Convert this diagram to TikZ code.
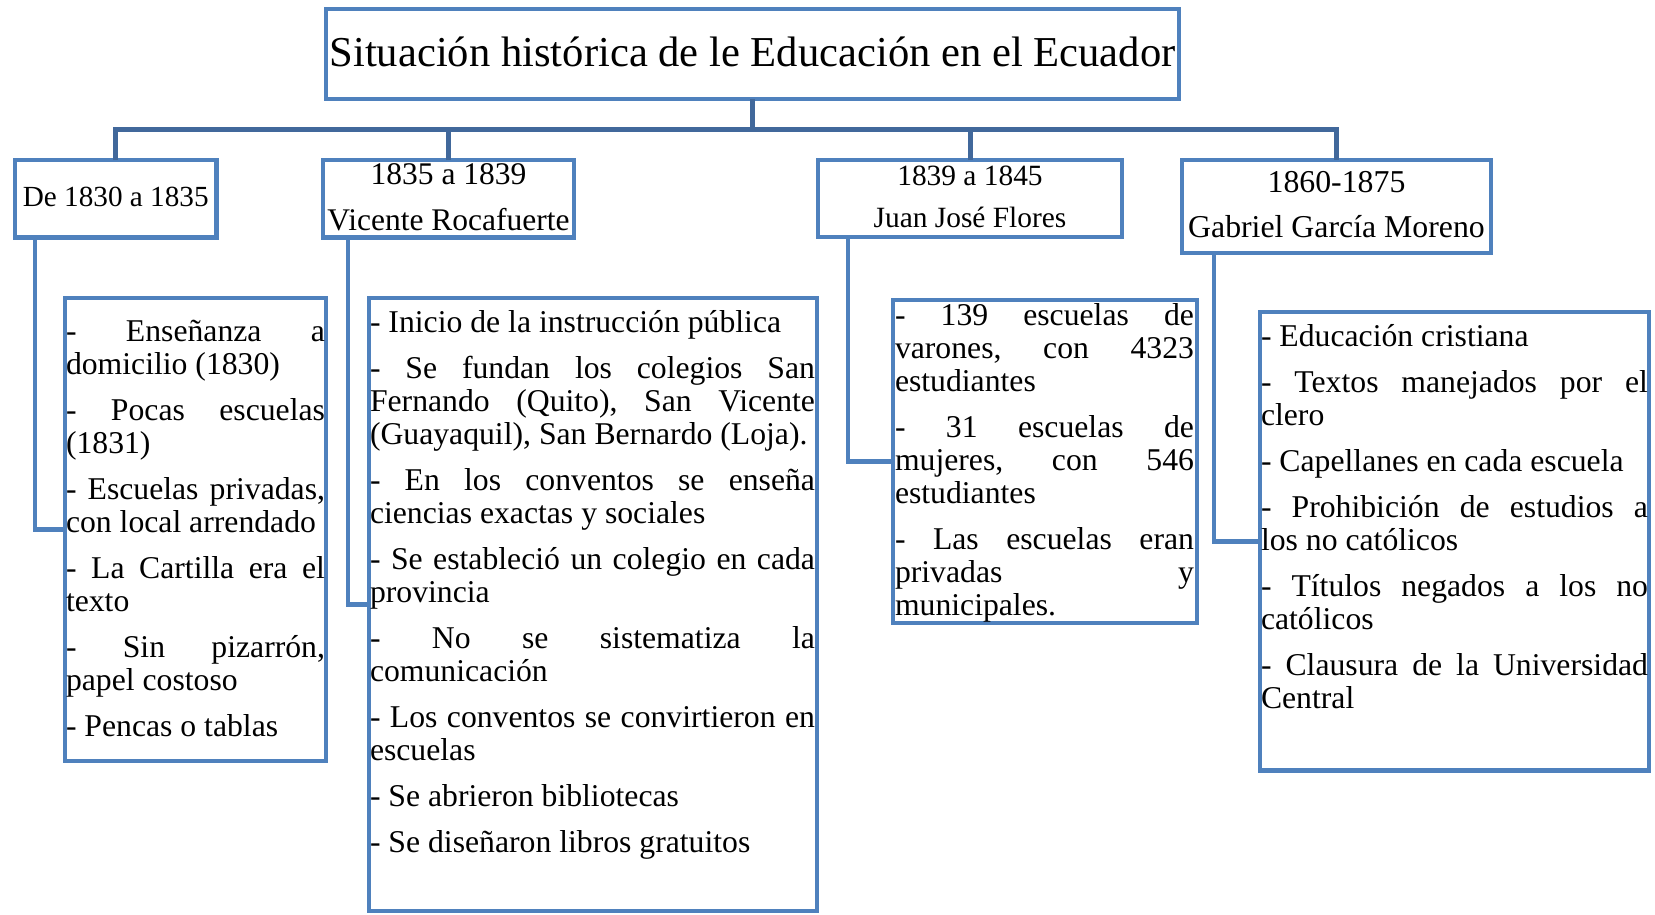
\documentclass[tikz,border=0pt]{standalone}
\usepackage{fontspec}
\setmainfont{Liberation Serif}
\definecolor{boxblue}{HTML}{4F81BD}
\definecolor{linkblue}{HTML}{41689B}
\tikzset{
  boxst/.style={draw=boxblue, line width=4.5pt, rectangle, inner sep=0pt, outer sep=0pt, anchor=north west},
  conn/.style={draw=linkblue, line width=5pt},
  side/.style={draw=boxblue, line width=4.5pt},
  txt/.style={inner sep=0pt, outer sep=0pt},
  detail/.style={txt, anchor=north west, font=\dfont},
}
\newcommand\J[1]{\hbox to \hsize{#1}}
\newcommand\N[1]{\hbox{#1}}
\newcommand\G{\vskip13pt}
\newcommand\F{\rule{0pt}{26pt}}
\newcommand\dfont{\fontsize{31.7}{33}\selectfont\frenchspacing}
\begin{document}
\begin{tikzpicture}[x=1pt, y=-1pt]
\useasboundingbox (0,0) rectangle (1655,914);
% boxes
\node[boxst, minimum width=853pt, minimum height=90pt] (title) at (326,9) {};
\node[boxst, minimum width=201.5pt, minimum height=77.5pt] (b1) at (15,160) {};
\node[boxst, minimum width=251pt, minimum height=77.5pt] (b2) at (323,160) {};
\node[boxst, minimum width=304pt, minimum height=77pt] (b3) at (818,160) {};
\node[boxst, minimum width=309pt, minimum height=93pt] (b4) at (1182,160) {};
\node[boxst, minimum width=261pt, minimum height=463pt] (d1) at (65,298) {};
\node[boxst, minimum width=448pt, minimum height=613pt] (d2) at (369,298) {};
\node[boxst, minimum width=304pt, minimum height=323pt] (d3) at (893,300) {};
\node[boxst, minimum width=389pt, minimum height=458.5pt] (d4) at (1260,312) {};
% connectors
\coordinate (bar) at (752.5,129);
\draw[conn] (title.south) -- (bar);
\draw[conn] (b1.north) |- (bar) -| (b4.north);
\draw[conn] (b2.north) |- (bar);
\draw[conn] (b3.north) |- (bar);
\draw[side] ([xshift=20pt]b1.south west) |- (d1.west);
\draw[side] ([xshift=25pt]b2.south west) |- (d2.west);
\draw[side] ([xshift=30pt]b3.south west) |- (d3.west);
\draw[side] ([xshift=32pt]b4.south west) |- (d4.west);
% title and headers
\node[txt, anchor=base, font=\fontsize{42.6}{50}\selectfont] (ttl) at (752.5,66.5) {Situación histórica de le Educación en el Ecuador};
\node[txt, anchor=base, font=\fontsize{29.2}{35}\selectfont] (h1) at (115.75,206.7) {De 1830 a 1835};
\node[txt, anchor=base, font=\fontsize{31.5}{38}\selectfont] (h2a) at (448.5,184) {1835 a 1839};
\node[txt, anchor=base, font=\fontsize{31.5}{38}\selectfont] (h2b) at (448.5,230) {Vicente Rocafuerte};
\node[txt, anchor=base, font=\fontsize{29.4}{35}\selectfont] (h3a) at (970,185.5) {1839 a 1845};
\node[txt, anchor=base, font=\fontsize{29.4}{35}\selectfont] (h3b) at (970,227) {Juan José Flores};
\node[txt, anchor=base, font=\fontsize{31.8}{38}\selectfont] (h4a) at (1336.5,192) {1860-1875};
\node[txt, anchor=base, font=\fontsize{31.8}{38}\selectfont] (h4b) at (1336.5,237.5) {Gabriel García Moreno};
% details
\node[detail] (t1) at (66,315) {\vbox{\hsize=259pt
\J{\F- Enseñanza a}
\N{domicilio (1830)}\G
\J{- Pocas escuelas}
\N{(1831)}\G
\J{- Escuelas privadas,}
\N{con local arrendado}\G
\J{- La Cartilla era el}
\N{texto}\G
\J{- Sin pizarrón,}
\N{papel costoso}\G
\N{- Pencas o tablas}}};
\node[detail] (t2) at (370,306.5) {\vbox{\hsize=445pt
\N{\F- Inicio de la instrucción pública}\G
\J{- Se fundan los colegios San}
\J{Fernando (Quito), San Vicente}
\N{(Guayaquil), San Bernardo (Loja).}\G
\J{- En los conventos se enseña}
\N{ciencias exactas y sociales}\G
\J{- Se estableció un colegio en cada}
\N{provincia}\G
\J{- No se sistematiza la}
\N{comunicación}\G
\J{- Los conventos se convirtieron en}
\N{escuelas}\G
\N{- Se abrieron bibliotecas}\G
\N{- Se diseñaron libros gratuitos}}};
\node[detail] (t3) at (895,299.5) {\vbox{\hsize=299pt
\J{\F- 139 escuelas de}
\J{varones, con 4323}
\N{estudiantes}\G
\J{- 31 escuelas de}
\J{mujeres, con 546}
\N{estudiantes}\G
\J{- Las escuelas eran}
\J{privadas y}
\N{municipales.}}};
\node[detail] (t4) at (1261,320) {\vbox{\hsize=387pt
\N{\F- Educación cristiana}\G
\J{- Textos manejados por el}
\N{clero}\G
\N{- Capellanes en cada escuela}\G
\J{- Prohibición de estudios a}
\N{los no católicos}\G
\J{- Títulos negados a los no}
\N{católicos}\G
\J{- Clausura de la Universidad}
\N{Central}}};
\end{tikzpicture}
\end{document}
